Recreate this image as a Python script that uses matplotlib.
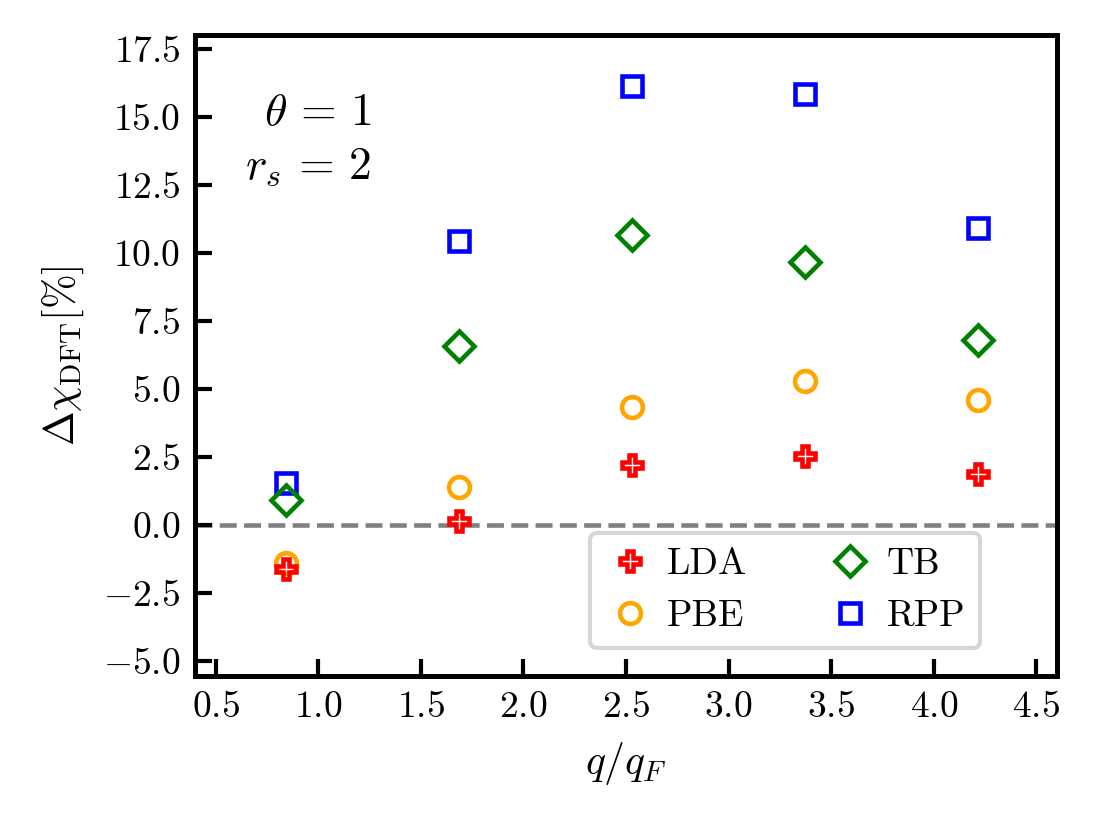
import matplotlib
matplotlib.use("Agg")
import matplotlib.pyplot as plt
import numpy as np

plt.rcParams["font.family"] = "serif"
plt.rcParams["font.serif"] = ["cmr10"]
plt.rcParams["mathtext.fontset"] = "cm"
plt.rcParams["axes.formatter.use_mathtext"] = True
plt.rcParams["axes.unicode_minus"] = True

# q / q_F positions
q_over_qf = [0.843, 1.686, 2.529, 3.372, 4.215]

# relative deviation of the DFT response [%]
lda = [-1.61, 0.12, 2.18, 2.53, 1.86]
pbe = [-1.42, 1.40, 4.33, 5.29, 4.58]
tb = [0.91, 6.58, 10.65, 9.66, 6.79]
rpp = [1.53, 10.42, 16.11, 15.82, 10.92]

fig = plt.figure(figsize=(1097 / 300, 820 / 300), dpi=300)
ax = fig.add_axes([195 / 1097, 1 - 675.7 / 820, 862 / 1097, 640.7 / 820])

ax.axhline(0.0, color="gray", linestyle="--", linewidth=1.1, zorder=1)

ms = 5.0
mew = 1.1
h_lda, = ax.plot(q_over_qf, lda, "P", color="red", fillstyle="none",
                 markersize=ms, markeredgewidth=mew, linestyle="none",
                 label="LDA", zorder=5)
h_pbe, = ax.plot(q_over_qf, pbe, "o", color="orange", fillstyle="none",
                 markersize=ms, markeredgewidth=mew, linestyle="none",
                 label="PBE", zorder=4)
h_tb, = ax.plot(q_over_qf, tb, "D", color="green", fillstyle="none",
                markersize=ms, markeredgewidth=mew, linestyle="none",
                label="TB", zorder=3)
h_rpp, = ax.plot(q_over_qf, rpp, "s", color="blue", fillstyle="none",
                 markersize=ms, markeredgewidth=mew, linestyle="none",
                 label="RPP", zorder=2)

ax.set_xlim(0.4, 4.6)
ax.set_ylim(-5.55, 18.0)
ax.set_xticks(np.arange(0.5, 4.51, 0.5))
ax.set_yticks(np.arange(-5.0, 17.51, 2.5))
ax.tick_params(direction="in", length=4, width=1.0, labelsize=9)
for s in ax.spines.values():
    s.set_linewidth(1.2)

ax.set_xlabel(r"$q/q_F$", fontsize=10)
ax.set_ylabel(r"$\Delta\chi_{\rm DFT}[\%]$", fontsize=10)

ax.text(0.205, 0.86, r"$\theta\,=\,1$", transform=ax.transAxes,
        ha="right", va="baseline", fontsize=11)
ax.text(0.205, 0.775, r"$r_s\,=\,2$", transform=ax.transAxes,
        ha="right", va="baseline", fontsize=11)

ax.legend(handles=[h_lda, h_pbe, h_tb, h_rpp], ncol=2, fontsize=9,
          loc="lower right", bbox_to_anchor=(0.911, 0.043),
          borderaxespad=0, handlelength=1.33, handletextpad=0.3,
          columnspacing=2.1)

fig.savefig("out.png", dpi=300)
